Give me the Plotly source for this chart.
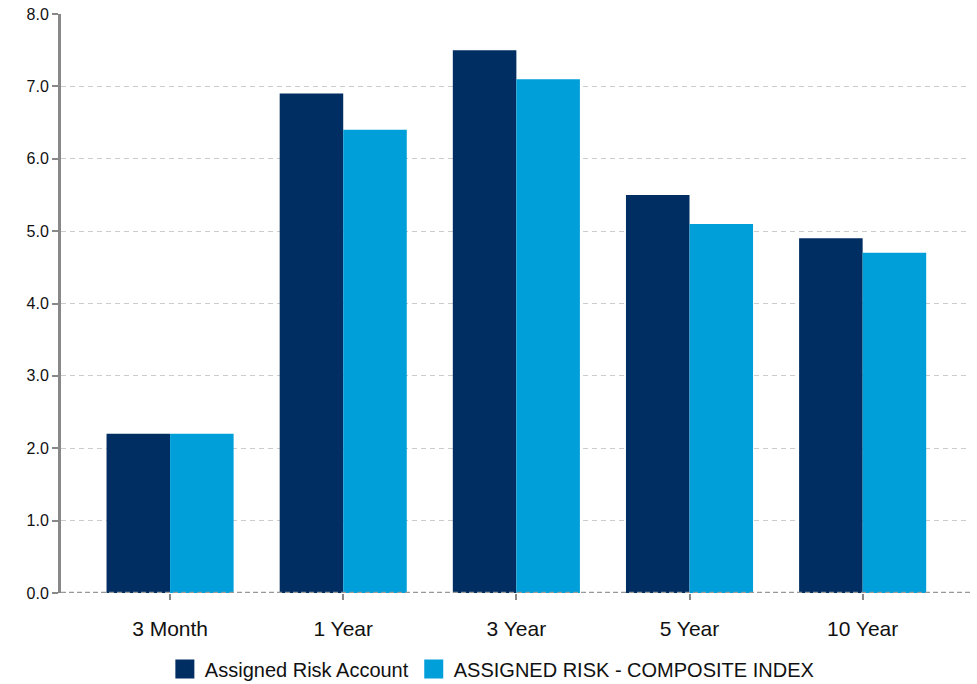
import plotly.graph_objects as go

categories = ["3 Month", "1 Year", "3 Year", "5 Year", "10 Year"]
account_values = [2.2, 6.9, 7.5, 5.5, 4.9]
index_values = [2.2, 6.4, 7.1, 5.1, 4.7]
series_names = ["Assigned Risk Account", "ASSIGNED RISK - COMPOSITE INDEX"]
series_colors = ["#002D62", "#009FDA"]
y_ticks = [0, 1, 2, 3, 4, 5, 6, 7, 8]

fig = go.Figure()
for vals, name, col in zip([account_values, index_values], series_names, series_colors):
    fig.add_trace(go.Bar(x=categories, y=vals, name=name, showlegend=False,
                         marker=dict(color=col, line=dict(width=0))))
# legend entries with larger square swatches
for name, col in zip(series_names, series_colors):
    fig.add_trace(go.Scatter(x=[None], y=[None], mode="markers", name=name,
                             marker=dict(symbol="square", size=22, color=col,
                                         line=dict(color=col, width=3))))

fig.add_shape(type="line", xref="paper", yref="y", x0=0, x1=1, y0=0, y1=0,
              line=dict(color="#999999", width=2.5, dash="5px,3px"))

fig.update_layout(
    width=977, height=684,
    margin=dict(l=61, r=7, t=14, b=91),
    plot_bgcolor="white", paper_bgcolor="white",
    barmode="group", bargap=0.266, bargroupgap=0,
    font=dict(family="Liberation Sans, Arial, sans-serif", color="#111111"),
    showlegend=True,
    legend=dict(orientation="h", x=0.474, xanchor="center",
                yref="container", y=0.022, yanchor="middle",
                font=dict(size=20), itemwidth=30, traceorder="normal",
                itemsizing="trace"),
    xaxis=dict(range=[-0.63, 4.62], showgrid=False, showline=False, automargin=False,
               ticks="outside", ticklen=6, tickwidth=2, tickcolor="#888888",
               tickfont=dict(size=21), ticklabelstandoff=11),
    yaxis=dict(range=[0, 8], tickvals=y_ticks, tickformat=".1f", automargin=False,
               showgrid=True, gridcolor="#cccccc", griddash="5px,4px", gridwidth=1,
               showline=True, linecolor="#888888", linewidth=3,
               ticks="outside", ticklen=6, tickwidth=2, tickcolor="#888888",
               tickfont=dict(size=16), zeroline=False),
)

fig.write_html(
    "out.html",
    config={"displayModeBar": False},
    post_script=(
        "document.body.style.margin='0';"
        "document.body.style.overflow='hidden';"
        "document.documentElement.style.overflow='hidden';"
    ),
)
